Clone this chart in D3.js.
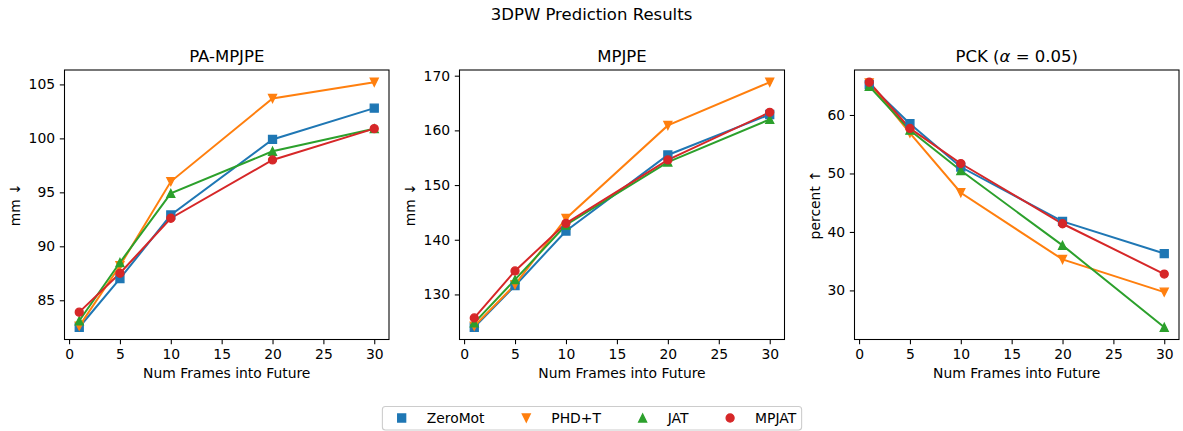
<!DOCTYPE html>
<html>
<head>
<meta charset="utf-8">
<script src="https://cdn.jsdelivr.net/npm/d3@7"></script>
<style>
  body { margin: 0; background: #fff; }
  svg { font-family: "DejaVu Sans", sans-serif; }
</style>
</head>
<body>
<div id="the_chart"></div>
<script>
// frames predicted into the future
var frames = [1, 5, 10, 20, 30];
var seriesNames = ["ZeroMot", "PHD+T", "JAT", "MPJAT"];
var colors = ["#1f77b4", "#ff7f0e", "#2ca02c", "#d62728"];
var markers = ["square", "tri-down", "tri-up", "circle"];

// PA-MPJPE (mm)
var paZeroMot = [82.5, 87.0, 92.9, 99.9, 102.8];
var paPhdT = [82.6, 88.2, 96.0, 103.7, 105.2];
var paJat = [83.1, 88.5, 94.9, 98.8, 100.9];
var paMpjat = [83.9, 87.5, 92.6, 98.0, 100.9];

// MPJPE (mm)
var mpZeroMot = [124.0, 131.6, 141.6, 155.5, 162.9];
var mpPhdT = [124.2, 131.8, 143.9, 160.9, 168.8];
var mpJat = [124.8, 132.7, 142.7, 154.2, 162.0];
var mpMpjat = [125.7, 134.3, 143.0, 154.6, 163.3];

// PCK (percent)
var pckZeroMot = [65.2, 58.5, 51.1, 41.8, 36.3];
var pckPhdT = [65.5, 56.9, 46.7, 35.3, 29.7];
var pckJat = [64.9, 57.4, 50.5, 37.7, 23.7];
var pckMpjat = [65.6, 57.7, 51.7, 41.4, 32.8];

var xTicks = [0, 5, 10, 15, 20, 25, 30];
var paTicks = [85, 90, 95, 100, 105];
var mpTicks = [130, 140, 150, 160, 170];
var pckTicks = [30, 40, 50, 60];

var w = 1183;
var h = 431;
var fs = 13.9;
var tfs = 16.5;

var svg = d3.select("#the_chart")
    .append("svg")
    .attr("width", w)
    .attr("height", h);

svg.append("text")
    .attr("x", w / 2)
    .attr("y", 14)
    .attr("dy", "0.35em")
    .attr("text-anchor", "middle")
    .style("font-size", tfs + "px")
    .text("3DPW Prediction Results");

// matplotlib-like marker shapes, s = marker size in px
function markerPath(type, s) {
    var r = s / 2;
    if (type == "square") return "M" + (-r) + "," + (-r) + "h" + s + "v" + s + "h" + (-s) + "Z";
    if (type == "tri-down") return "M0," + r + "L" + (-r) + "," + (-r) + "L" + r + "," + (-r) + "Z";
    if (type == "tri-up") return "M0," + (-r) + "L" + (-r) + "," + r + "L" + r + "," + r + "Z";
    return d3.arc()({innerRadius: 0, outerRadius: r, startAngle: 0, endAngle: 2 * Math.PI});
}

function panel(opt) {
    var x = d3.scaleLinear().domain([1 - 29 * 0.05, 30 + 29 * 0.05]).range([opt.left, opt.right]);
    var all = d3.merge(opt.data);
    var ext = d3.extent(all);
    var pad = (ext[1] - ext[0]) * 0.05;
    var y = d3.scaleLinear().domain([ext[0] - pad, ext[1] + pad]).range([opt.bottom, opt.top]);

    var g = svg.append("g");

    var xAxis = g.append("g")
        .attr("transform", "translate(0," + opt.bottom + ")")
        .call(d3.axisBottom(x).tickValues(xTicks).tickSize(4.7).tickPadding(4.7).tickFormat(d3.format("d")));
    var yAxis = g.append("g")
        .attr("transform", "translate(" + opt.left + ",0)")
        .call(d3.axisLeft(y).tickValues(opt.ticks).tickSize(4.7).tickPadding(4.7).tickFormat(d3.format("d")));
    [xAxis, yAxis].forEach(function (a) {
        a.select(".domain").remove();
        a.selectAll("line").attr("stroke", "#000").attr("stroke-width", 1.07);
        a.selectAll("text").style("font-size", fs + "px").attr("fill", "#000").attr("font-family", "DejaVu Sans");
    });

    var line = d3.line()
        .x(function (d, i) { return x(frames[i]); })
        .y(function (d) { return y(d); });

    opt.data.forEach(function (vals, k) {
        g.append("path")
            .attr("d", line(vals))
            .attr("fill", "none")
            .attr("stroke", colors[k])
            .attr("stroke-width", 2);
    });
    opt.data.forEach(function (vals, k) {
        g.selectAll(null)
            .data(vals)
            .enter()
            .append("path")
            .attr("d", markerPath(markers[k], 8))
            .attr("transform", function (d, i) { return "translate(" + x(frames[i]) + "," + y(d) + ")"; })
            .attr("fill", colors[k])
            .attr("stroke", colors[k])
            .attr("stroke-width", 1.3);
    });

    g.append("rect")
        .attr("x", opt.left)
        .attr("y", opt.top)
        .attr("width", opt.right - opt.left)
        .attr("height", opt.bottom - opt.top)
        .attr("fill", "none")
        .attr("stroke", "#000")
        .attr("stroke-width", 1.07);

    var title = g.append("text")
        .attr("x", (opt.left + opt.right) / 2)
        .attr("y", 56.5)
        .attr("dy", "0.35em")
        .attr("text-anchor", "middle")
        .style("font-size", tfs + "px");
    opt.title.forEach(function (t) {
        title.append("tspan").attr("font-style", t[1] ? "italic" : "normal").text(t[0]);
    });

    g.append("text")
        .attr("x", (opt.left + opt.right) / 2)
        .attr("y", 373.5)
        .attr("dy", "0.35em")
        .attr("text-anchor", "middle")
        .style("font-size", fs + "px")
        .text("Num Frames into Future");

    g.append("text")
        .attr("transform", "translate(" + opt.ylabelX + "," + (opt.top + opt.bottom) / 2 + ") rotate(-90)")
        .attr("dy", "0.35em")
        .attr("text-anchor", "middle")
        .style("font-size", fs + "px")
        .text(opt.ylabel);
}

panel({left: 64.5, right: 389, top: 70, bottom: 339.5, ticks: paTicks,
    data: [paZeroMot, paPhdT, paJat, paMpjat], title: [["PA-MPJPE", false]],
    ylabel: "mm \u2193", ylabelX: 15.5});
panel({left: 459.5, right: 784.5, top: 70, bottom: 339.5, ticks: mpTicks,
    data: [mpZeroMot, mpPhdT, mpJat, mpMpjat], title: [["MPJPE", false]],
    ylabel: "mm \u2193", ylabelX: 410.5});
panel({left: 854.5, right: 1179, top: 70, bottom: 339.5, ticks: pckTicks,
    data: [pckZeroMot, pckPhdT, pckJat, pckMpjat],
    title: [["PCK (", false], ["\u03b1", true], [" = 0.05)", false]],
    ylabel: "percent \u2191", ylabelX: 815});

// legend along the bottom
var leg = svg.append("g");
var frame = leg.append("rect");
var cy = 418;
var cursor = 0;
var items = [];
seriesNames.forEach(function (name, k) {
    var m = leg.append("path")
        .attr("d", markerPath(markers[k], 8))
        .attr("fill", colors[k])
        .attr("stroke", colors[k])
        .attr("stroke-width", 1.3);
    var t = leg.append("text")
        .attr("y", cy)
        .attr("dy", "0.35em")
        .style("font-size", fs + "px")
        .text(name);
    var tw = t.node().getComputedTextLength();
    items.push({m: m, t: t, mx: cursor, tx: cursor + 25});
    cursor += 25 + tw + 41.7;
});
var total = cursor - 41.7; // from first marker to last text end
var lw = 19.3 + total + 5.4;
var lx = (w - lw) / 2 + 0.5;
items.forEach(function (it) {
    it.m.attr("transform", "translate(" + (lx + 19.3 + it.mx) + "," + cy + ")");
    it.t.attr("x", lx + 19.3 + it.tx);
});
frame.attr("x", lx)
    .attr("y", 406.5)
    .attr("width", lw)
    .attr("height", 23.5)
    .attr("rx", 3)
    .attr("fill", "#fff")
    .attr("fill-opacity", 0.8)
    .attr("stroke", "#cccccc")
    .attr("stroke-width", 1.07);
</script>
</body>
</html>
